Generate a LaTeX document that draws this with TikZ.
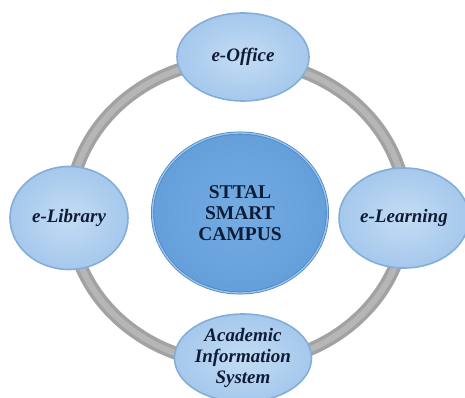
\documentclass[tikz,border=0pt]{standalone}
\usepackage{fontspec}
\setmainfont{Liberation Serif}
\usetikzlibrary{shapes.geometric}
\definecolor{ringgray}{HTML}{A2A2A2}
\definecolor{ringlight}{HTML}{B6B6B6}
\definecolor{satin}{HTML}{C4DCF4}
\definecolor{satout}{HTML}{A5C8EC}
\definecolor{satedge}{HTML}{84AEDA}
\definecolor{hubin}{HTML}{74ACE3}
\definecolor{hubout}{HTML}{659FDA}
\definecolor{hubedge}{HTML}{4E86C2}
\definecolor{hubrim}{HTML}{98C4EE}
\definecolor{navytext}{HTML}{0E1C36}

\begin{document}
\begin{tikzpicture}[x=1pt,y=-1pt]
                        \tikzstyle{satellite}=[ellipse, draw=satedge, line width=1.6pt, inner sep=0pt,
                            inner color=satin, outer color=satout, text=navytext, align=center,
                            font=\fontsize{19}{21}\selectfont\bfseries\itshape]
                        \tikzstyle{hub}=[ellipse, draw=hubedge, double=hubrim, double distance=1.4pt, line width=0.8pt,
                            inner sep=0pt, inner color=hubin, outer color=hubout, text=navytext, align=center,
                            minimum width=175pt, minimum height=160pt,
                            font=\fontsize{19.5}{21}\selectfont\bfseries]
                        \tikzstyle{ring}=[draw=ringgray, line width=13pt]
                        \useasboundingbox (0,0) rectangle (465,398);
                        \coordinate (centre) at (238,212);
                        \draw[ring] (centre) ellipse [x radius=168, y radius=152];
                        \draw[draw=ringlight, line width=6pt] (centre) ellipse [x radius=168, y radius=152];
                        \node[hub] (campus) at (240,213) {STTAL\\SMART\\CAMPUS};
                        \node[satellite, minimum width=132pt, minimum height=88pt] (office) at (243,57) {e-Office};
                        \node[satellite, minimum width=118pt, minimum height=103pt] (library) at (69,218) {e-Library};
                        \node[satellite, minimum width=130pt, minimum height=100pt] (learning) at (404,218) {e-Learning};
                        \node[satellite, minimum width=137pt, minimum height=88pt] (academic) at (243,358) {Academic\\Information\\System};
                    \end{tikzpicture}
\end{document}
